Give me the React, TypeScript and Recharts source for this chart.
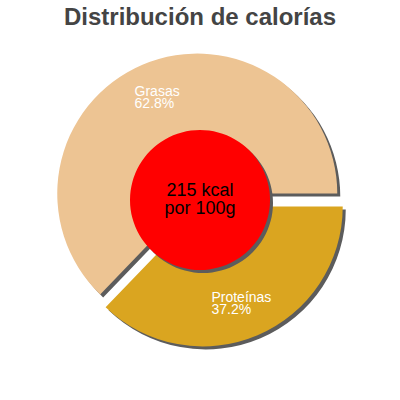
import { PieChart, Pie, Cell } from "recharts"

const categories = ["Grasas", "Proteínas"]
const values = [62.8, 37.2]
const colors = ["#EDC493", "#DAA520"]
const centerLines = ["215 kcal", "por 100g"]
const title = "Distribución de calorías"

const data = categories.map((name, i) => ({ name, value: values[i] }))

const CX = 200
const CY = 200
const RADIUS = 140
const HOLE = 70
const EXPLODE = 7
const SHADOW = 3
const RAD = Math.PI / 180
const FONT = "'Liberation Sans', Arial, sans-serif"

// offset of each slice along its mid angle
const total = values.reduce((a, b) => a + b, 0)
let acc = 0
const offsets = values.map((v) => {
    const start = (acc / total) * 360
    acc += v
    const end = (acc / total) * 360
    const mid = ((start + end) / 2) * RAD
    return { dx: EXPLODE * Math.cos(mid), dy: -EXPLODE * Math.sin(mid) }
})

function sliceLabel(show: number) {
    return (props: any) => {
        const { cx, cy, midAngle, index, name, percent } = props
        if (index !== show) return null
        const r = 105
        const x = cx + r * Math.cos(-midAngle * RAD)
        const y = cy + r * Math.sin(-midAngle * RAD)
        const left = x - name.length * 3.6
        return (
            <text x={left} y={y} fill="#fff" fontSize={14} fontFamily={FONT} textAnchor="start">
                <tspan x={left} y={y - 1}>{name}</tspan>
                <tspan x={left} y={y + 11}>{`${(percent * 100).toFixed(1)}%`}</tspan>
            </text>
        )
    }
}

// two-line text in the middle of the red disc
const centerLabel = (props: any) => (
    <text x={props.cx} y={props.cy} textAnchor="middle" fontSize={18} fontFamily={FONT} fill="#000">
        <tspan x={props.cx} y={props.cy - 4}>{centerLines[0]}</tspan>
        <tspan x={props.cx} y={props.cy + 14}>{centerLines[1]}</tspan>
    </text>
)

export default function App() {
    return (
        <div style={{ width: 400, height: 400, background: "#fff" }}>
            <style>{`body{margin:0}`}</style>
            <PieChart width={400} height={400} margin={{ top: 0, right: 0, bottom: 0, left: 0 }}>
                {/* shadows */}
                {data.map((_, i) => (
                    <Pie
                        key={`shadow-${i}`}
                        data={data}
                        dataKey="value"
                        cx={CX + offsets[i].dx + SHADOW}
                        cy={CY + offsets[i].dy + SHADOW}
                        outerRadius={RADIUS}
                        innerRadius={0}
                        startAngle={0}
                        endAngle={360}
                        stroke="none"
                        isAnimationActive={false}
                    >
                        {data.map((_, j) => (
                            <Cell key={j} fill={j === i ? "#5c5c5c" : "none"} />
                        ))}
                    </Pie>
                ))}
                {/* slices */}
                {data.map((_, i) => (
                    <Pie
                        key={`slice-${i}`}
                        data={data}
                        dataKey="value"
                        cx={CX + offsets[i].dx}
                        cy={CY + offsets[i].dy}
                        outerRadius={RADIUS}
                        innerRadius={0}
                        startAngle={0}
                        endAngle={360}
                        stroke="none"
                        label={sliceLabel(i)}
                        labelLine={false}
                        isAnimationActive={false}
                    >
                        {data.map((_, j) => (
                            <Cell key={j} fill={j === i ? colors[i] : "none"} />
                        ))}
                    </Pie>
                ))}
                {/* center disc */}
                <Pie
                    data={[{ name: "total", value: 1 }]}
                    dataKey="value"
                    cx={CX + SHADOW}
                    cy={CY + SHADOW}
                    outerRadius={HOLE}
                    stroke="none"
                    fill="#5c5c5c"
                    isAnimationActive={false}
                />
                <Pie
                    data={[{ name: "total", value: 1 }]}
                    dataKey="value"
                    cx={CX}
                    cy={CY}
                    outerRadius={HOLE}
                    stroke="none"
                    fill="#FF0000"
                    label={centerLabel}
                    labelLine={false}
                    isAnimationActive={false}
                />
                <text x={CX} y={25} textAnchor="middle" fontSize={24} fontWeight="bold" fontFamily={FONT} fill="#444">
                    {title}
                </text>
            </PieChart>
        </div>
    )
}
